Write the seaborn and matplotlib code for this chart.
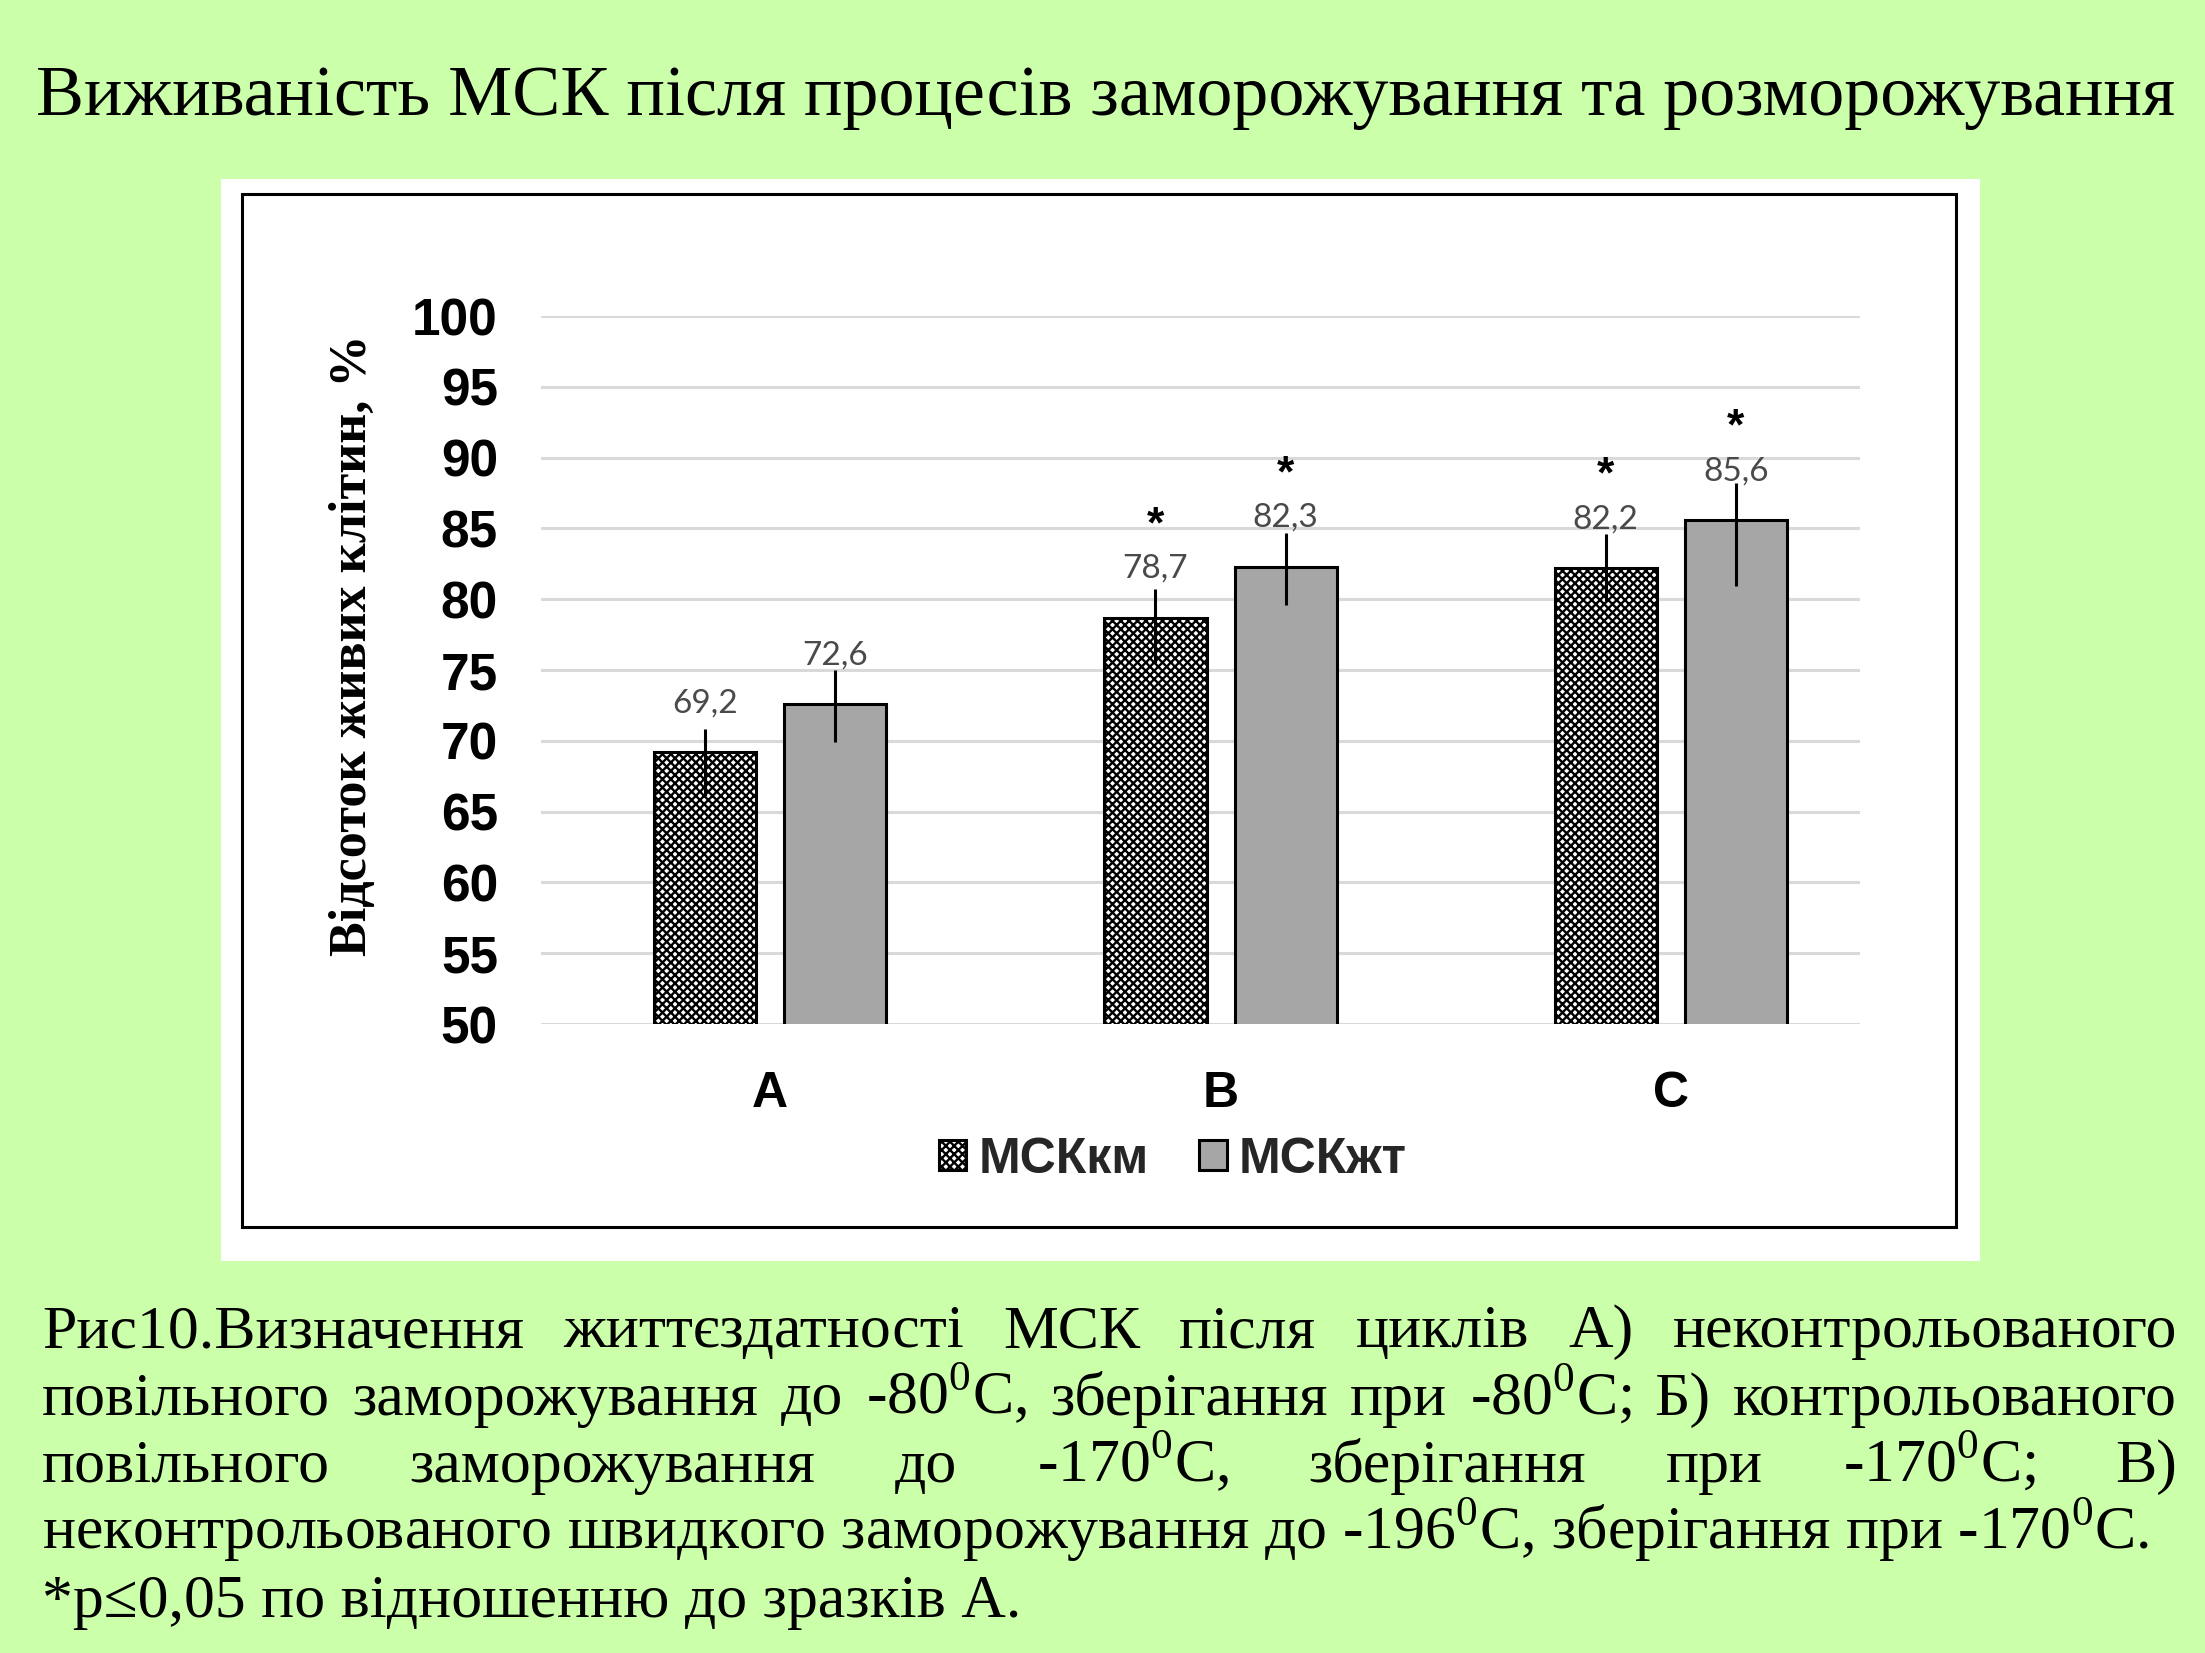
import matplotlib
matplotlib.use('Agg')
import matplotlib.pyplot as plt
import pandas as pd
import seaborn as sns
from matplotlib.patches import Rectangle

# Chart data
groups = ['A', 'B', 'C']
series = ['МСКкм', 'МСКжт']
km_values = [69.2, 78.7, 82.2]
zht_values = [72.6, 82.3, 85.6]
km_err_low = [3.1, 3.2, 2.3]
km_err_high = [1.6, 2.0, 2.4]
zht_err_low = [2.7, 2.7, 4.7]
zht_err_high = [2.4, 2.4, 2.6]
km_star = [False, True, True]
zht_star = [False, True, True]
y_ticks = [50, 55, 60, 65, 70, 75, 80, 85, 90, 95, 100]

title = 'Виживаність МСК після процесів заморожування та розморожування'
y_label = 'Відсоток живих клітин, %'
caption_lines = [
    'Рис10.Визначення життєздатності МСК після циклів А) неконтрольованого',
    'повільного заморожування до -80⁰С, зберігання при -80⁰С; Б) контрольованого',
    'повільного заморожування до -170⁰С, зберігання при -170⁰С; В)',
    'неконтрольованого швидкого заморожування до -196⁰С, зберігання при -170⁰С.',
    '*p≤0,05 по відношенню до зразків А.',
]

BG = '#CCFFAA'
W, H = 2205, 1653

sns.set_theme(style='white')
plt.rcParams['hatch.linewidth'] = 1.7
plt.rcParams['mathtext.fontset'] = 'custom'
plt.rcParams['mathtext.rm'] = 'Liberation Serif'
serif = 'Liberation Serif'

df = pd.DataFrame({
    'group': groups * 2,
    'series': [series[0]] * 3 + [series[1]] * 3,
    'value': km_values + zht_values,
})

fig = plt.figure(figsize=(W / 100, H / 100), dpi=100, facecolor=BG)
renderer = fig.canvas.get_renderer()

# white chart box with black frame
fig.add_artist(Rectangle((221 / W, 1 - 1261 / H), (1980 - 221) / W, (1261 - 179) / H,
                         transform=fig.transFigure, facecolor='white', edgecolor='none', zorder=-2))
fig.add_artist(Rectangle((242 / W, 1 - 1227 / H), (1956 - 242) / W, (1227 - 194) / H,
                         transform=fig.transFigure, fill=False, edgecolor='black', linewidth=2.2, zorder=-1))

ax = fig.add_axes([541 / W, 1 - 1024 / H, (1860 - 541) / W, (1024 - 316) / H])
ax.set_facecolor('none')

sns.barplot(data=df, x='group', y='value', hue='series', palette=['white', '#A6A6A6'],
            width=0.578, gap=0.215, edgecolor='black', linewidth=2.2, legend=False, ax=ax)
bars = list(ax.containers[:2])
for p in bars[0].patches:
    p.set_hatch('xxxx')

ax.set_xlim(-0.509, 2.42)
ax.set_ylim(50, 100)
ax.set_yticks(y_ticks)
ax.set_axisbelow(True)
ax.yaxis.grid(True, color='#D9D9D9', linewidth=2.2)
ax.xaxis.grid(False)
for s in ax.spines.values():
    s.set_visible(False)
ax.set_xlabel('')
ax.set_ylabel('')
ax.tick_params(axis='y', length=0, pad=31, labelsize=37)
ax.tick_params(axis='x', length=0, pad=34, labelsize=36)
for lab in ax.get_yticklabels() + ax.get_xticklabels():
    lab.set_fontfamily('Liberation Sans')
    lab.set_fontweight('bold')
    lab.set_color('black')

# error bars, value labels and significance marks
for cont, vals, lo, hi, stars in [(bars[0], km_values, km_err_low, km_err_high, km_star),
                                  (bars[1], zht_values, zht_err_low, zht_err_high, zht_star)]:
    xs = [p.get_x() + p.get_width() / 2 for p in cont.patches]
    ax.errorbar(xs, vals, yerr=[lo, hi], fmt='none', ecolor='black', elinewidth=2.2, capsize=0, zorder=5)
    for x, v, st in zip(xs, vals, stars):
        ax.annotate(f'{v:.1f}'.replace('.', ','), xy=(x, v), xytext=(0, 35), textcoords='offset points',
                    ha='center', va='center', fontsize=24, color='#4a4a4a', family='Lato', zorder=6)
        if st:
            ax.annotate('*', xy=(x, v), xytext=(0, 66), textcoords='offset points',
                        ha='center', va='center', fontsize=32, fontweight='bold', color='black',
                        family='Liberation Sans', zorder=6)

ax.legend(handles=bars, labels=series, loc='center', bbox_to_anchor=(1173 / W, 1 - 1160 / H),
          bbox_transform=fig.transFigure, ncol=2, frameon=False,
          prop=dict(family='Liberation Sans', weight='bold', size=36),
          handlelength=0.55, handleheight=0.55, handletextpad=0.25, columnspacing=1.0)

# y label
yl = fig.text(353 / W, 1 - 645 / H, y_label, rotation=90, ha='center', va='center',
              family=serif, fontweight='bold', fontsize=40, color='black')
yl.set_fontsize(yl.get_fontsize() * 622 / yl.get_window_extent(renderer).height)

# title
tt = fig.text(1106 / W, 1 - 98 / H, title, ha='center', va='center', family=serif, fontsize=58, color='black')
tt.set_fontsize(tt.get_fontsize() * 2142 / tt.get_window_extent(renderer).width)


def as_math(s):
    # small raised zero for the degree sign, as on the slide
    return s.replace('⁰', r'$^{\mathrm{0}}$')


# caption: justified paragraph
left, right = 42, 2177
probe = fig.text(0, 0, as_math(caption_lines[3]), family=serif, fontsize=44)
cap_size = 44 * 2109 / probe.get_window_extent(renderer).width
probe.remove()
baselines = [1347, 1414.5, 1482, 1549.5, 1617]
for i, (line, yb) in enumerate(zip(caption_lines, baselines)):
    if i < 3:
        words = line.split()
        texts = [fig.text(0, 1 - yb / H, as_math(w), family=serif, fontsize=cap_size, va='baseline',
                          color='black') for w in words]
        widths = [t.get_window_extent(renderer).width for t in texts]
        gap = (right - left - sum(widths)) / (len(words) - 1)
        x = left
        for t, w in zip(texts, widths):
            t.set_x(x / W)
            x += w + gap
    else:
        fig.text(left / W, 1 - yb / H, as_math(line), family=serif, fontsize=cap_size, va='baseline',
                 color='black')

fig.savefig('out.png', dpi=100, facecolor=BG)
